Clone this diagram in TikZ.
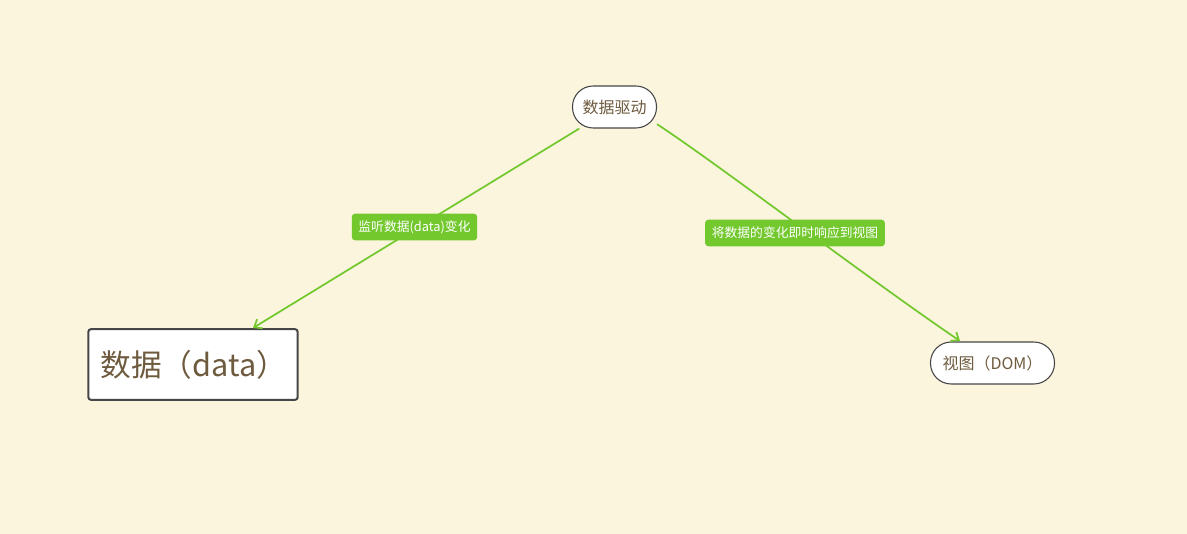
\documentclass[tikz,border=0pt]{standalone}
\usepackage{fontspec}
\setmainfont{Noto Sans CJK SC}
\usetikzlibrary{arrows.meta}

\definecolor{paper}{RGB}{251,245,222}
\definecolor{leaf}{RGB}{115,200,46}
\definecolor{ink}{RGB}{110,90,62}
\definecolor{rim}{RGB}{70,70,72}

\tikzset{topic/.style={draw=rim, line width=0.8pt, fill=white, text=ink, rounded corners=15.5pt,
    minimum height=31.5pt, inner xsep=6pt, font=\fontsize{12}{14}\selectfont},
    rootbox/.style={draw=rim, line width=1.5pt, fill=white, text=ink, rounded corners=2pt,
    inner xsep=9pt, text width=139pt, minimum height=53pt, align=left, font=\fontsize{23}{27}\selectfont},
    tag/.style={fill=leaf, text=white, rounded corners=2.5pt, inner xsep=5pt,
    minimum height=20pt, font=\fontsize{9.6}{11}\selectfont},
    link/.style={draw=leaf, line width=1.3pt, -{Straight Barb[length=5pt,width=8pt]}}}

\begin{document}
\begin{tikzpicture}[x=0.75pt, y=-0.75pt]
\useasboundingbox[fill=paper] (0,0) rectangle (1187,534);
\node[topic, minimum width=63pt] (drive) at (614.5,107) {数据驱动};
\node[rootbox] (data) at (193,364.5) {数据（data）};
\node[topic, minimum width=93pt] (dom) at (992.5,363) {视图（DOM）};
\coordinate (datain) at (253,328);
\coordinate (domin) at (960,341);
% edges first, tags on top
\draw[link] (drive) -- (datain);
\draw[link] (drive.-22) .. controls (715,162) and (870,280) .. (domin);
\node[tag] (listen) at (414.5,227) {监听数据(data)变化};
\node[tag] (react) at (795,233) {将数据的变化即时响应到视图};
\end{tikzpicture}
\end{document}
